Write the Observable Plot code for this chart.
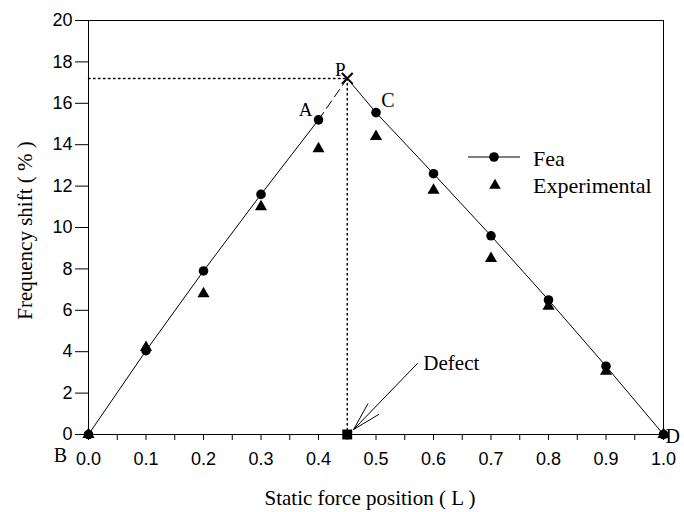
<!DOCTYPE html>
<html>
<head>
<meta charset="utf-8">
<script src="https://cdn.jsdelivr.net/npm/d3@7"></script>
<script src="https://cdn.jsdelivr.net/npm/@observablehq/plot@0.6"></script>
<style>
  html, body { margin: 0; padding: 0; background: #fff; }
  #wrap { position: relative; width: 684px; height: 512px; overflow: hidden; }
  .legend, .title { position: absolute; font-family: "Liberation Serif", "Times New Roman", serif; color: #000; white-space: nowrap; line-height: normal; }
  .legend { font-size: 22px; }
  .title { font-size: 21px; }
</style>
</head>
<body>
<div id="wrap"></div>
<script>
// ---- data ----
const positions = [0.0, 0.1, 0.2, 0.3, 0.4, 0.5, 0.6, 0.7, 0.8, 0.9, 1.0];
const feaValues = [0.0, 4.05, 7.9, 11.6, 15.2, 15.55, 12.6, 9.6, 6.5, 3.3, 0.0];
const expPositions = [0.0, 0.1, 0.2, 0.3, 0.4, 0.5, 0.6, 0.7, 0.8, 0.9, 1.0];
const expValues = [0.0, 4.2, 6.8, 11.0, 13.8, 14.4, 11.8, 8.5, 6.2, 3.05, 0.0];
const peak = {x: 0.45, y: 17.2};            // point P
const defect = {x: 0.45, y: 0};             // defect location
const defectArrow = {x1: 0.572, y1: 3.43, x2: 0.461, y2: 0.24};
const defectText = {x: 0.631, y: 3.45, label: "Defect"};
const xTicks = [0.0, 0.1, 0.2, 0.3, 0.4, 0.5, 0.6, 0.7, 0.8, 0.9, 1.0];
const xMinorTicks = [0.05, 0.15, 0.25, 0.35, 0.45, 0.55, 0.65, 0.75, 0.85, 0.95];
const yTicks = [0, 2, 4, 6, 8, 10, 12, 14, 16, 18, 20];
const xTitle = "Static force position ( L )";
const yTitle = "Frequency shift ( % )";
const seriesLabels = ["Fea", "Experimental"];

const fea = positions.map((x, i) => ({x, y: feaValues[i]}));
const exp = expPositions.map((x, i) => ({x, y: expValues[i]}));
const leftBranch = fea.filter(d => d.x <= 0.4);
const rightBranch = fea.filter(d => d.x >= 0.5);
const ptA = fea.find(d => d.x === 0.4);
const ptC = fea.find(d => d.x === 0.5);
const ptB = fea[0];
const ptD = fea[fea.length - 1];

const sans = "Liberation Sans, Arial, sans-serif";
const serif = "Liberation Serif, Times New Roman, serif";

const chart = Plot.plot({
  width: 684,
  height: 512,
  marginLeft: 88,
  marginRight: 21,
  marginTop: 20,
  marginBottom: 78,
  style: {fontFamily: sans, fontSize: "18px", background: "#fff", color: "#000"},
  x: {domain: [0, 1]},
  y: {domain: [0, 20]},
  marks: [
    Plot.frame({stroke: "#000", strokeWidth: 1}),
    Plot.axisX({ticks: xTicks, tickFormat: d3.format(".1f"), tickSize: 6, tickPadding: 12, label: null, fontSize: 18, fontFamily: sans}),
    Plot.axisX({ticks: xMinorTicks, tickFormat: () => "", tickSize: 6, label: null}),
    Plot.axisY({ticks: yTicks, tickSize: 13, tickPadding: 3, label: null, fontSize: 18, fontFamily: sans}),
    // dotted guide lines to P
    Plot.line([{x: 0, y: peak.y}, peak], {x: "x", y: "y", stroke: "#000", strokeWidth: 1.5, strokeDasharray: "1.5,3.5"}),
    Plot.line([peak, defect], {x: "x", y: "y", stroke: "#000", strokeWidth: 1.5, strokeDasharray: "1.5,3.5"}),
    // Fea lines
    Plot.line(leftBranch, {x: "x", y: "y", stroke: "#000", strokeWidth: 1}),
    Plot.line(rightBranch, {x: "x", y: "y", stroke: "#000", strokeWidth: 1}),
    Plot.line([ptA, peak], {x: "x", y: "y", stroke: "#000", strokeWidth: 1, strokeDasharray: "9,5"}),
    Plot.line([peak, ptC], {x: "x", y: "y", stroke: "#000", strokeWidth: 1}),
    // experimental
    Plot.dot(exp, {x: "x", y: "y", symbol: "triangle", r: 4.5, fill: "#000"}),
    // fea dots
    Plot.dot(fea, {x: "x", y: "y", r: 4.8, fill: "#000"}),
    // P marker
    Plot.dot([peak], {x: "x", y: "y", symbol: "times", r: 5, stroke: "#000", strokeWidth: 2}),
    // defect square
    Plot.dot([defect], {x: "x", y: "y", symbol: "square", r: 5.6, fill: "#000"}),
    Plot.arrow([defectArrow], {x1: "x1", y1: "y1", x2: "x2", y2: "y2", stroke: "#000", strokeWidth: 1, headLength: 44, headAngle: 30}),
    Plot.text([defectText], {x: "x", y: "y", text: "label", fontFamily: serif, fontSize: 21, textAnchor: "middle"}),
    // point labels
    Plot.text([peak], {x: "x", y: "y", text: () => "P", fontFamily: serif, fontSize: 19, dx: -7, dy: -9}),
    Plot.text([ptA], {x: "x", y: "y", text: () => "A", fontFamily: serif, fontSize: 19, dx: -13, dy: -10}),
    Plot.text([ptC], {x: "x", y: "y", text: () => "C", fontFamily: serif, fontSize: 20, dx: 12, dy: -12}),
    Plot.text([ptB], {x: "x", y: "y", text: () => "B", fontFamily: serif, fontSize: 20, dx: -28, dy: 21}),
    Plot.text([ptD], {x: "x", y: "y", text: () => "D", fontFamily: serif, fontSize: 20, textAnchor: "start", dx: 2, dy: 2})
  ]
});

const wrap = document.getElementById("wrap");
wrap.appendChild(chart);

// axis titles
const xt = document.createElement("div");
xt.className = "title";
xt.textContent = xTitle;
xt.style.left = "370px";
xt.style.top = "486px";
xt.style.transform = "translateX(-50%)";
wrap.appendChild(xt);

const yt = document.createElement("div");
yt.className = "title";
yt.textContent = yTitle;
wrap.appendChild(yt);
{
  const w = yt.offsetWidth, h = yt.offsetHeight;
  yt.style.left = (25 - w / 2) + "px";
  yt.style.top = (230 - h / 2) + "px";
  yt.style.transform = "rotate(-90deg)";
}

// legend overlay
const legendItems = [
  {label: seriesLabels[0], kind: "line-dot", top: 146, symY: 157},
  {label: seriesLabels[1], kind: "triangle", top: 173, symY: 185}
];
for (const item of legendItems) {
  const sym = document.createElementNS("http://www.w3.org/2000/svg", "svg");
  sym.setAttribute("width", 54);
  sym.setAttribute("height", 20);
  sym.style.position = "absolute";
  sym.style.left = "467px";
  sym.style.top = (item.symY - 10) + "px";
  if (item.kind === "line-dot") {
    sym.innerHTML = '<line x1="1" y1="10" x2="53" y2="10" stroke="#000" stroke-width="1"/><circle cx="27" cy="10" r="4.8" fill="#000"/>';
  } else {
    sym.innerHTML = '<path transform="translate(28,10.5)" d="' + d3.symbol(d3.symbolTriangle, 58)() + '" fill="#000"/>';
  }
  wrap.appendChild(sym);
  const t = document.createElement("div");
  t.className = "legend";
  t.style.left = "533px";
  t.style.top = item.top + "px";
  t.textContent = item.label;
  wrap.appendChild(t);
}
</script>
</body>
</html>
